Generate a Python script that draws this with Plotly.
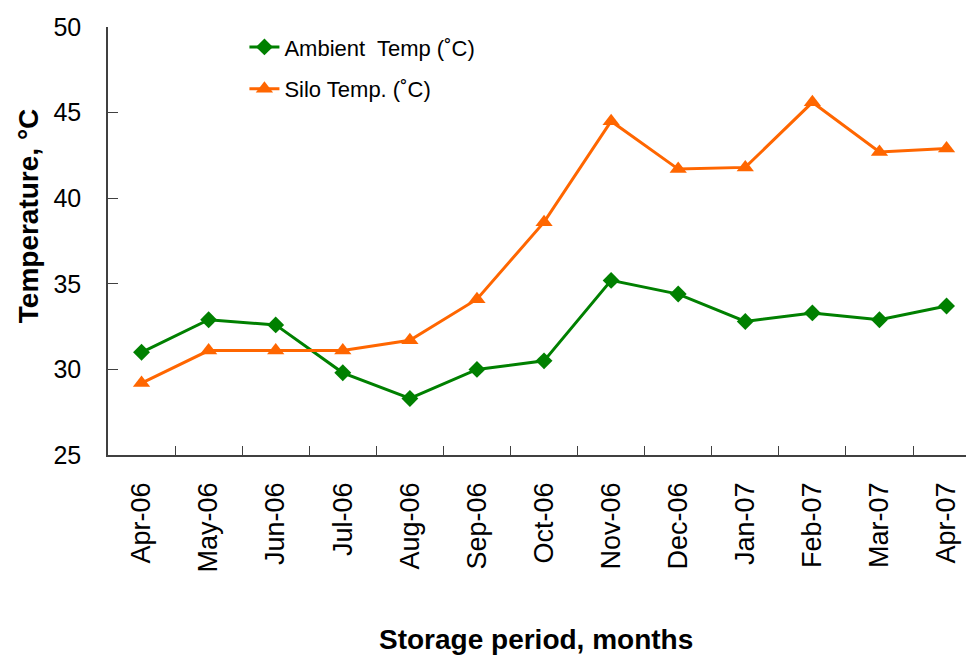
import plotly.graph_objects as go

months = ["Apr-06", "May-06", "Jun-06", "Jul-06", "Aug-06", "Sep-06", "Oct-06",
          "Nov-06", "Dec-06", "Jan-07", "Feb-07", "Mar-07", "Apr-07"]
ambient = [31.0, 32.9, 32.6, 29.8, 28.3, 30.0, 30.5, 35.2, 34.4, 32.8, 33.3, 32.9, 33.7]
silo = [29.2, 31.1, 31.1, 31.1, 31.7, 34.1, 38.6, 44.5, 41.7, 41.8, 45.6, 42.7, 42.9]

GREEN = "#008000"
ORANGE = "#FF6600"
FONT = "Liberation Sans, Arial, sans-serif"

fig = go.Figure()
fig.add_trace(go.Scatter(
    x=months, y=ambient, mode="lines+markers", name="Ambient\u00a0 Temp (\u02daC)",
    line=dict(color=GREEN, width=3),
    marker=dict(symbol="diamond", size=13, color=GREEN),
    legend="legend",
))
fig.add_trace(go.Scatter(
    x=months, y=silo, mode="lines+markers", name="Silo Temp. (\u02daC)",
    line=dict(color=ORANGE, width=3),
    marker=dict(symbol="triangle-up", size=15, color=ORANGE),
    legend="legend2",
))

fig.update_layout(
    width=966, height=657,
    margin=dict(l=108, r=0, t=27, b=202),
    paper_bgcolor="white", plot_bgcolor="white",
    font=dict(family=FONT, color="black"),
    showlegend=True,
    legend=dict(x=0.159, y=0.953, xanchor="left", yanchor="middle",
                font=dict(size=22, family=FONT), bgcolor="rgba(0,0,0,0)"),
    legend2=dict(x=0.159, y=0.855, xanchor="left", yanchor="middle",
                 font=dict(size=22, family=FONT), bgcolor="rgba(0,0,0,0)"),
    xaxis=dict(
        type="category", range=[-0.5, 12.29],
        showline=True, linecolor="#404040", linewidth=1.5,
        ticks="inside", tickson="boundaries", ticklen=9, tickwidth=1.2, tickcolor="#404040",
        tickangle=-90, tickfont=dict(size=27, family=FONT),
        ticklabelstandoff=15,
        showgrid=False, zeroline=False,
    ),
    yaxis=dict(
        range=[25, 50], tickmode="array", tickvals=[25, 30, 35, 40, 45, 50],
        showline=True, linecolor="#404040", linewidth=1.5,
        ticks="inside", ticklen=10, tickwidth=1.2, tickcolor="#404040",
        tickfont=dict(size=25, family=FONT),
        ticklabelstandoff=20,
        showgrid=False, zeroline=False,
    ),
    annotations=[
        dict(text="<b>Temperature, \u00b0C</b>", textangle=-90, xref="paper", yref="paper",
             x=-0.0932, y=0.558, xanchor="center", yanchor="middle", showarrow=False,
             font=dict(size=28, family=FONT, color="black")),
        dict(text="<b>Storage period, months</b>", xref="paper", yref="paper",
             x=0.499, y=-0.432, xanchor="center", yanchor="middle", showarrow=False,
             font=dict(size=28, family=FONT, color="black")),
    ],
)

fig.write_html("out.html", config={"displayModeBar": False},
               post_script="document.body.style.margin='0px';document.body.style.overflow='hidden';")
